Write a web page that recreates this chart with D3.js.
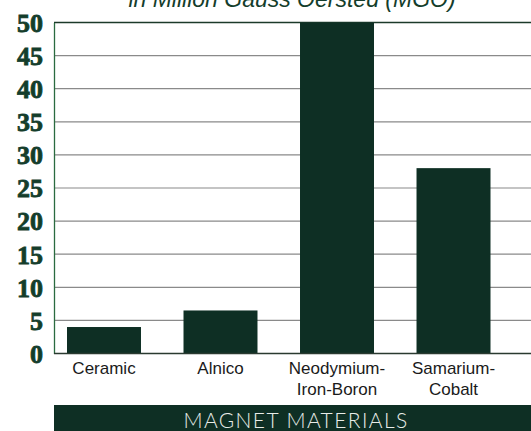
<!DOCTYPE html>
<html>
<head>
<meta charset="utf-8">
<script src="https://cdn.jsdelivr.net/npm/d3@7"></script>
<style>
  html, body { margin: 0; padding: 0; background: #fff; overflow: hidden; }
</style>
</head>
<body>
<svg id="chart"></svg>
<script>
// chart data
const categories = ["Ceramic", "Alnico", "Neodymium-Iron-Boron", "Samarium-Cobalt"];
const labelLines = [["Ceramic"], ["Alnico"], ["Neodymium-", "Iron-Boron"], ["Samarium-", "Cobalt"]];
const energy = [4, 6.5, 50, 28];
const yTicks = [0, 5, 10, 15, 20, 25, 30, 35, 40, 45, 50];
const titleText = "in Million Gauss Oersted (MGO)";
const bannerText = "MAGNET MATERIALS";

window.onload = function() {
    drawChart();
}

function drawChart() {
    const width = 531, height = 431;
    const left = 54, top = 22.5, bottom = 353.5;
    const darkGreen = "#0e2f24";
    const textGreen = "#143d2b";

    const svg = d3.select("#chart")
        .attr('width', width)
        .attr('height', height);

    const xScale = d3.scaleBand()
        .domain(categories)
        .range([67, 490.5])
        .paddingInner(0.365)
        .paddingOuter(0);

    const yScale = d3.scaleLinear()
        .domain([0, 50])
        .range([bottom, top]);

    // title (cut off at top, as in the source)
    svg.append('text')
        .attr('x', 292)
        .attr('y', 7)
        .attr('text-anchor', 'middle')
        .attr('font-family', 'Liberation Sans, Arial, sans-serif')
        .attr('font-style', 'italic')
        .attr('font-size', 23)
        .attr('fill', textGreen)
        .text(titleText);

    // gridlines
    svg.append('g')
        .selectAll('line')
        .data(yTicks.filter(d => d > 0 && d < 50))
        .enter()
        .append('line')
        .attr('x1', left)
        .attr('x2', width)
        .attr('y1', d => yScale(d))
        .attr('y2', d => yScale(d))
        .attr('stroke', '#8a8a8a')
        .attr('stroke-width', 1.2);

    // top line
    svg.append('line')
        .attr('x1', left).attr('x2', width)
        .attr('y1', yScale(50)).attr('y2', yScale(50))
        .attr('stroke', '#1c3a2a').attr('stroke-width', 1.5);

    // bars
    svg.selectAll('rect.bar')
        .data(energy)
        .enter()
        .append('rect')
        .attr('class', 'bar')
        .attr('x', (d, i) => xScale(categories[i]))
        .attr('y', d => yScale(d))
        .attr('width', xScale.bandwidth())
        .attr('height', d => yScale(0) - yScale(d))
        .attr('fill', darkGreen);

    // y axis
    const yAxis = d3.axisLeft(yScale)
        .tickValues(yTicks)
        .tickSize(0)
        .tickPadding(11);

    const yg = svg.append('g')
        .attr('transform', `translate(${left},0)`)
        .call(yAxis);
    yg.select('.domain').attr('stroke', '#2a6b40').attr('stroke-width', 1.3);
    yg.selectAll('text')
        .attr('font-family', 'Liberation Serif, serif')
        .attr('font-weight', 'bold')
        .attr('font-size', 26)
        .attr('fill', textGreen)
        .attr('stroke', textGreen)
        .attr('stroke-width', 0.8)
        .attr('dy', '0.34em');

    // bottom axis line
    svg.append('line')
        .attr('x1', left).attr('x2', width)
        .attr('y1', bottom).attr('y2', bottom)
        .attr('stroke', '#2a3a30').attr('stroke-width', 1.5);

    // category labels
    const lab = svg.append('g')
        .selectAll('text')
        .data(labelLines)
        .enter()
        .append('text')
        .attr('text-anchor', 'middle')
        .attr('font-family', 'Liberation Sans, Arial, sans-serif')
        .attr('font-size', 17)
        .attr('fill', '#1a1a1a')
        .attr('transform', (d, i) => `translate(${xScale(categories[i]) + xScale.bandwidth() / 2},374)`);
    lab.selectAll('tspan')
        .data(d => d)
        .enter()
        .append('tspan')
        .attr('x', 0)
        .attr('y', (d, i) => i * 21)
        .text(d => d);

    // banner
    svg.append('rect')
        .attr('x', left)
        .attr('y', 405)
        .attr('width', width - left)
        .attr('height', height - 405)
        .attr('fill', darkGreen);
    svg.append('text')
        .attr('x', 296)
        .attr('y', 428)
        .attr('text-anchor', 'middle')
        .attr('font-family', 'Lato, sans-serif')
        .attr('font-weight', 300)
        .attr('font-size', 21)
        .attr('letter-spacing', 1.4)
        .attr('fill', '#e8ece8')
        .text(bannerText);
}
</script>
</body>
</html>
